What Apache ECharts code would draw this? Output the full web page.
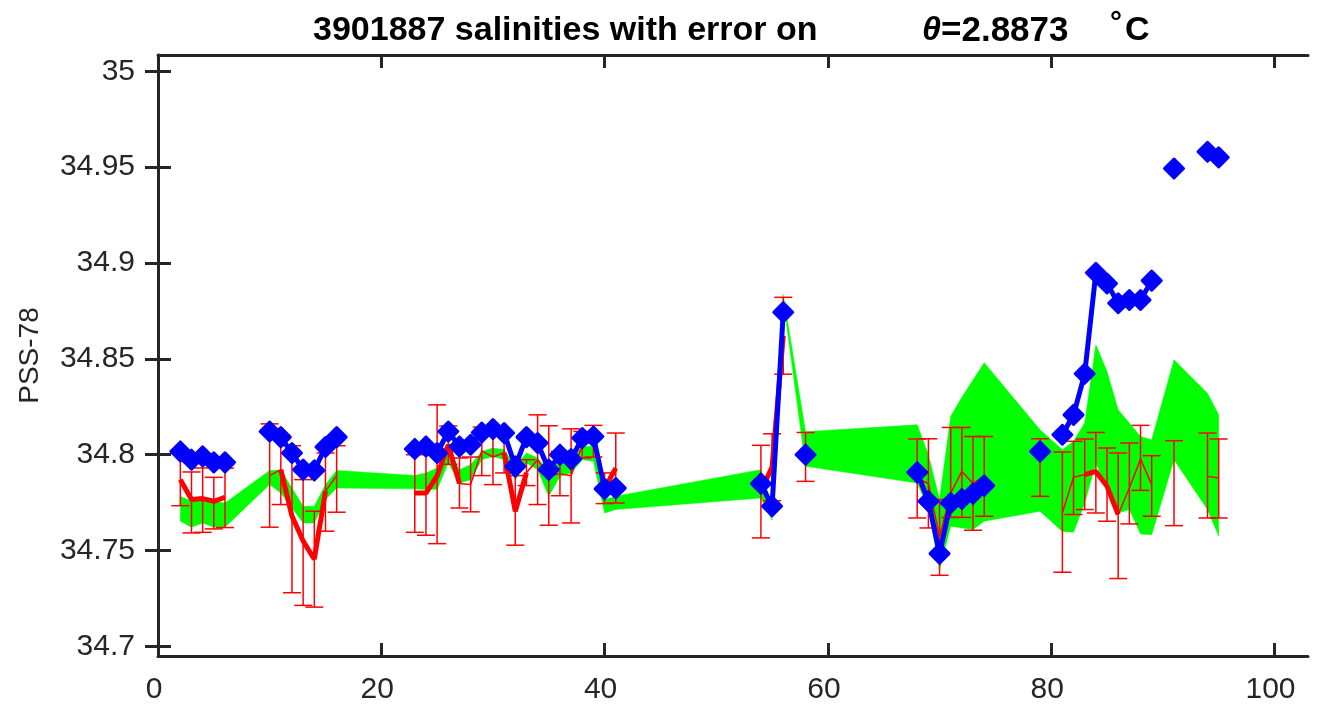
<!DOCTYPE html>
<html><head><meta charset="utf-8">
<script src="https://cdn.jsdelivr.net/npm/echarts@6/dist/echarts.min.js"></script>
<style>html,body{margin:0;padding:0;background:#fff}#c{width:1320px;height:706px}</style>
</head><body><div id="c"></div>
<script>
// ---------- data ----------
const xTicks = [0, 20, 40, 60, 80, 100];
const yTicks = [34.7, 34.75, 34.8, 34.85, 34.9, 34.95, 35];
const yTickLabels = ['34.7', '34.75', '34.8', '34.85', '34.9', '34.95', '35'];

const profiles = [2,3,4,5,6, 10,11,12,13,14,15,16,
  23,24,25,26,27,28,29,30,31,32,33,34,35,36,37,38,39,40,41,
  54,55,56,58, 68,69,70,71,72,73,74, 79, 81,82,83,84,85,86,87,88,89, 91,94,95];

const blueSal = [34.8017,34.7974,34.7991,34.7960,34.7960,
  34.8121,34.8092,34.8009,34.7922,34.7918,34.8040,34.8092,
  34.8030,34.8043,34.8009,34.8121,34.8043,34.8052,34.8116,34.8134,34.8113,34.7939,34.8092,34.8061,34.7922,34.8000,34.7977,34.8087,34.8095,34.7822,34.7826,
  34.7849,34.7731,34.8743,34.8000,
  34.7908,34.7757,34.7484,34.7748,34.7769,34.7797,34.7839,
  34.8017,
  34.8104,34.8208,34.8422,34.8949,34.8893,34.8790,34.8807,34.8807,34.8908,
  34.9493,34.9580,34.9551];

const bandTop = [34.7783,34.7757,34.7774,34.7757,34.7748,
  34.7918,34.7920,34.7826,34.7731,34.7731,34.7844,34.7918,
  34.7891,34.7905,34.7931,34.8017,34.7922,34.7948,34.8017,34.8035,34.8026,34.7940,34.8009,34.7983,34.7913,34.7983,34.7974,34.8043,34.8043,34.7766,34.7783,
  34.7922,34.7730,34.8835,34.8120,
  34.8156,34.8000,34.7766,34.8200,34.8300,34.8390,34.8480,
  34.8130,
  34.8026,34.8070,34.8165,34.8573,34.8434,34.8234,34.8165,34.8095,34.8078,
  34.8495,34.8321,34.8208];

const bandBottom = [34.7653,34.7622,34.7644,34.7622,34.7622,
  34.7844,34.7800,34.7722,34.7644,34.7644,34.7766,34.7826,
  34.7822,34.7818,34.7820,34.7957,34.7852,34.7870,34.7974,34.7991,34.7974,34.7870,34.7957,34.7922,34.7783,34.7887,34.7905,34.7974,34.7966,34.7696,34.7714,
  34.7774,34.7660,34.8810,34.7940,
  34.7852,34.7720,34.7400,34.7627,34.7618,34.7610,34.7653,
  34.7705,
  34.7600,34.7596,34.7748,34.7957,34.7818,34.7696,34.7714,34.7587,34.7583,
  34.7974,34.7714,34.7575];

const redMid = [34.7870,34.7766,34.7771,34.7757,34.7778,
  34.7891,34.7922,34.7680,34.7550,34.7455,34.7810,34.7890,
  34.7800,34.7800,34.7890,34.8052,34.7850,34.7845,34.8020,34.7988,34.8010,34.7705,34.7906,34.7974,34.7890,34.7900,34.7890,34.8050,34.8070,34.7825,34.7930,
  34.7810,34.7935,34.8620,34.7988,
  34.7876,34.7850,34.7570,34.7800,34.7913,34.7850,34.7890,
  34.7933,
  34.7696,34.7882,34.7896,34.7913,34.7835,34.7688,34.7826,34.7977,34.7844,
  34.7850,34.7887,34.7878];

const errLow = [34.7734,34.7592,34.7595,34.7613,34.7620,
  34.7622,34.7740,34.7280,34.7214,34.7205,34.7601,34.7700,
  34.7595,34.7580,34.7536,34.7950,34.7722,34.7702,34.7891,34.7844,34.7905,34.7528,34.7839,34.7740,34.7632,34.7786,34.7644,34.7983,34.7988,34.7745,34.7748,
  34.7566,34.7760,34.8420,34.7861,
  34.7670,34.7618,34.7371,34.7673,34.7673,34.7606,34.7679,
  34.7783,
  34.7387,34.7688,34.7714,34.7696,34.7653,34.7354,34.7639,34.7814,34.7679,
  34.7630,34.7670,34.7670];

const errHigh = [34.8006,34.7910,34.7931,34.7882,34.7930,
  34.8161,34.8100,34.8047,34.7870,34.7705,34.8009,34.8047,
  34.8000,34.8020,34.8260,34.8150,34.7983,34.7988,34.8144,34.8130,34.8113,34.7891,34.7974,34.8208,34.8151,34.8017,34.8135,34.8121,34.8153,34.7905,34.8113,
  34.8049,34.8109,34.8821,34.8116,
  34.8082,34.8083,34.7766,34.8142,34.8142,34.8095,34.8095,
  34.8083,
  34.8014,34.8070,34.8082,34.8116,34.8035,34.8009,34.8061,34.8153,34.7995,
  34.8073,34.8113,34.8082];

const thickProfiles = [2,3,4,5,6, 11,12,13,14,15, 23,24,25,26,27, 31,32,33, 40,41, 54,55,56, 83,84,85,86];

// ---------- helpers ----------
function withGaps(xs, ys) {
  const out = [];
  for (let i = 0; i < xs.length; i++) {
    if (i > 0 && xs[i] - xs[i - 1] > 1) out.push([(xs[i] + xs[i - 1]) / 2, null]);
    out.push([xs[i], ys[i]]);
  }
  return out;
}
const thickY = thickProfiles.map(p => redMid[profiles.indexOf(p)]);
const errData = profiles.map((p, i) => [p, errLow[i], errHigh[i]]);

const AX = '#262626';
const FONT = 'Liberation Sans';
const X_MIN = 0, X_MAX = 103, Y_MIN = 34.695, Y_MAX = 35.0085;

const tickStyle = {inside: true, length: 13, lineStyle: {color: AX, width: 3}};
function yLabel(v) {
  let best = 0;
  for (let i = 1; i < yTicks.length; i++) if (Math.abs(yTicks[i] - v) < Math.abs(yTicks[best] - v)) best = i;
  return yTickLabels[best];
}

const chart = echarts.init(document.getElementById('c'));
chart.setOption({
  animation: false,
  backgroundColor: '#fff',
  textStyle: {fontFamily: FONT},
  grid: {left: 158, right: 12, top: 55, bottom: 50, containLabel: false},
  xAxis: [
    {type: 'value', min: X_MIN, max: X_MAX, position: 'bottom',
     axisLine: {lineStyle: {color: AX, width: 3}},
     axisTick: Object.assign({customValues: xTicks}, tickStyle),
     axisLabel: {customValues: xTicks, fontSize: 30, color: AX, margin: 19, fontFamily: FONT, padding: [0, 8, 0, 0]},
     splitLine: {show: false}},
    {type: 'value', min: X_MIN, max: X_MAX, position: 'top',
     axisLine: {lineStyle: {color: AX, width: 3}},
     axisTick: Object.assign({customValues: xTicks}, tickStyle),
     axisLabel: {show: false}, splitLine: {show: false}}
  ],
  yAxis: [
    {type: 'value', min: Y_MIN, max: Y_MAX, position: 'left',
     name: 'PSS-78', nameLocation: 'middle', nameGap: 114,
     nameTextStyle: {fontSize: 28, color: AX, fontFamily: FONT},
     axisLine: {lineStyle: {color: AX, width: 3}},
     axisTick: Object.assign({customValues: yTicks}, tickStyle),
     axisLabel: {customValues: yTicks, fontSize: 30, color: AX, margin: 23, fontFamily: FONT, formatter: yLabel},
     splitLine: {show: false}},
    {type: 'value', min: Y_MIN, max: Y_MAX, position: 'right',
     axisLine: {lineStyle: {color: AX, width: 3}},
     axisTick: Object.assign({customValues: yTicks}, tickStyle),
     axisLabel: {show: false}, splitLine: {show: false}}
  ],
  graphic: [
    {type: 'text', x: 313, y: 31, style: {text: '3901887 salinities with error on', fontFamily: FONT, fontSize: 34, fontWeight: 'bold', fill: '#000', align: 'left', verticalAlign: 'middle'}},
    {type: 'text', x: 922, y: 31, style: {text: 'θ', fontFamily: FONT, fontSize: 34, fontWeight: 'bold', fontStyle: 'italic', fill: '#000', align: 'left', verticalAlign: 'middle'}},
    {type: 'text', x: 941, y: 31, style: {text: '=2.8873', fontFamily: FONT, fontSize: 35, fontWeight: 'bold', fill: '#000', align: 'left', verticalAlign: 'middle'}},
    {type: 'text', x: 1110, y: 24, style: {text: '°', fontFamily: FONT, fontSize: 30, fontWeight: 'bold', fill: '#000', align: 'left', verticalAlign: 'middle'}},
    {type: 'text', x: 1125, y: 31, style: {text: 'C', fontFamily: FONT, fontSize: 34, fontWeight: 'bold', fill: '#000', align: 'left', verticalAlign: 'middle'}}
  ],
  series: [
    {type: 'custom', name: 'band', xAxisIndex: 0, yAxisIndex: 0, clip: true, z: 1,
     data: [[profiles[0], bandBottom[0], bandTop[0]]],
     renderItem: function (params, api) {
       const pts = [];
       for (let i = 0; i < profiles.length; i++) pts.push(api.coord([profiles[i], bandTop[i]]));
       for (let i = profiles.length - 1; i >= 0; i--) pts.push(api.coord([profiles[i], bandBottom[i]]));
       return {type: 'polygon', shape: {points: pts}, style: {fill: '#00ff00', stroke: '#00ff00', lineWidth: 0.5}};
     }},
    {type: 'custom', name: 'err', xAxisIndex: 0, yAxisIndex: 0, clip: true, z: 2,
     encode: {x: 0, y: [1, 2]},
     data: errData,
     renderItem: function (params, api) {
       const lo = api.coord([api.value(0), api.value(1)]);
       const hi = api.coord([api.value(0), api.value(2)]);
       const w = 9;
       const st = {stroke: '#ff0000', lineWidth: 1.5};
       return {type: 'group', children: [
         {type: 'line', shape: {x1: lo[0], y1: lo[1], x2: hi[0], y2: hi[1]}, style: st},
         {type: 'line', shape: {x1: lo[0] - w, y1: lo[1], x2: lo[0] + w, y2: lo[1]}, style: st},
         {type: 'line', shape: {x1: hi[0] - w, y1: hi[1], x2: hi[0] + w, y2: hi[1]}, style: st}
       ]};
     }},
    {type: 'line', name: 'redThin', data: withGaps(profiles, redMid), z: 3,
     symbol: 'none', lineStyle: {color: '#ff0000', width: 1.5}, connectNulls: false},
    {type: 'line', name: 'redThick', data: withGaps(thickProfiles, thickY), z: 3,
     symbol: 'none', lineStyle: {color: '#ff0000', width: 5}, connectNulls: false},
    {type: 'line', name: 'blue', data: withGaps(profiles, blueSal), z: 5,
     symbol: 'diamond', symbolSize: 19, showAllSymbol: true,
     itemStyle: {color: '#0000ff', borderColor: '#0000ff', borderWidth: 3, borderJoin: 'round'},
     lineStyle: {color: '#0000ff', width: 5}, connectNulls: false}
  ]
});
</script>
</body></html>
